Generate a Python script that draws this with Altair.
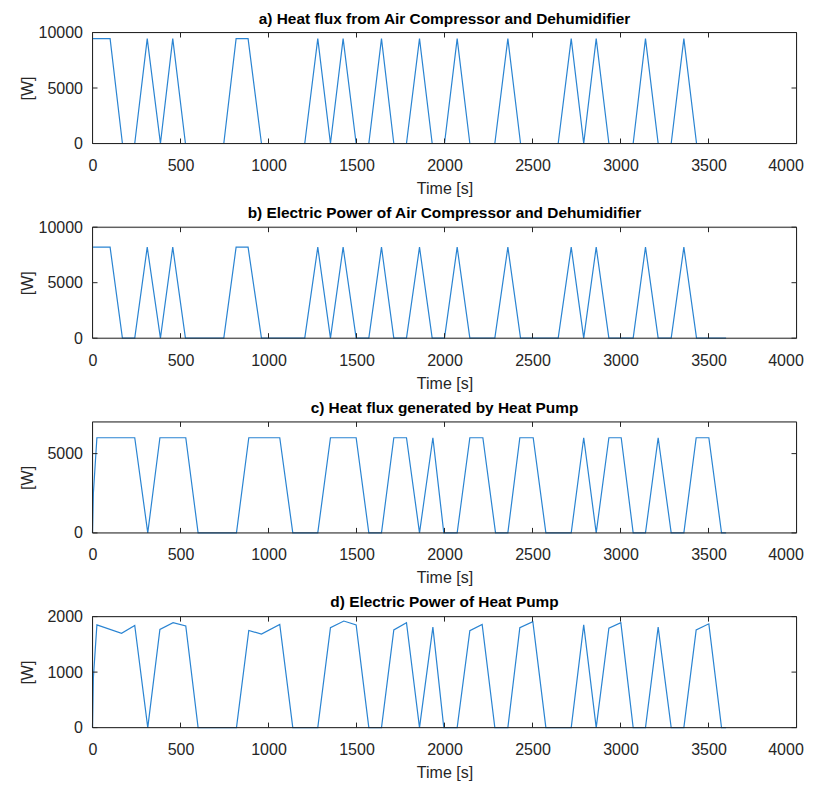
import altair as alt
import pandas as pd

# ---- data ----
t_ab = [0, 100, 170, 240, 311, 386, 456, 528, 746, 816, 884, 960, 1206, 1280, 1352,
        1424, 1498, 1570, 1642, 1712, 1784, 1858, 1930, 2000, 2072, 2144, 2286, 2360,
        2432, 2646, 2720, 2791, 2862, 2934, 3072, 3142, 3214, 3288, 3360, 3432, 3600]
a_vals = [9450, 9450, 0, 0, 9450, 0, 9450, 0, 0, 9450, 9450, 0, 0, 9450, 0,
          9450, 0, 0, 9450, 0, 0, 9450, 0, 0, 9450, 0, 0, 9450,
          0, 0, 9450, 0, 9450, 0, 0, 9450, 0, 0, 9450, 0, 0]
b_vals = [8200, 8200, 0, 0, 8200, 0, 8200, 0, 0, 8200, 8200, 0, 0, 8200, 0,
          8200, 0, 0, 8200, 0, 0, 8200, 0, 0, 8200, 0, 0, 8200,
          0, 0, 8200, 0, 8200, 0, 0, 8200, 0, 0, 8200, 0, 0]

t_c = [0, 5, 25, 240, 314, 383, 530, 600, 818, 888, 1064, 1138, 1280, 1352, 1498,
       1570, 1642, 1712, 1784, 1858, 1934, 1996, 2072, 2144, 2218, 2290, 2360, 2428,
       2504, 2576, 2720, 2791, 2862, 2934, 3004, 3072, 3142, 3214, 3288, 3360, 3430,
       3502, 3574, 3600]
c_vals = [0, 2500, 6000, 6000, 0, 6000, 6000, 0, 0, 6000, 6000, 0, 0, 6000, 6000,
          0, 0, 6000, 6000, 0, 6000, 0, 0, 6000, 6000, 0, 0, 6000,
          6000, 0, 0, 6000, 0, 6000, 6000, 0, 0, 6000, 0, 0, 6000,
          6000, 0, 0]

t_d = [0, 5, 25, 165, 240, 314, 383, 458, 530, 600, 818, 888, 960, 1064, 1138,
       1280, 1352, 1428, 1498, 1570, 1642, 1712, 1784, 1858, 1934, 1996, 2072, 2144,
       2214, 2286, 2360, 2428, 2502, 2576, 2720, 2791, 2862, 2934, 3002, 3072, 3142,
       3214, 3288, 3360, 3430, 3502, 3574, 3600]
d_vals = [0, 900, 1850, 1700, 1840, 0, 1770, 1890, 1830, 0, 0, 1750, 1685, 1860, 0,
          0, 1800, 1920, 1850, 0, 0, 1760, 1890, 0, 1810, 0, 0, 1745,
          1860, 0, 0, 1800, 1910, 0, 0, 1850, 0, 1790, 1890, 0, 0,
          1810, 0, 0, 1760, 1870, 0, 0]

titles = ["a) Heat flux from Air Compressor and Dehumidifier",
          "b) Electric Power of Air Compressor and Dehumidifier",
          "c) Heat flux generated by Heat Pump",
          "d) Electric Power of Heat Pump"]
x_ticks = [0, 500, 1000, 1500, 2000, 2500, 3000, 3500, 4000]
y_maxes = [10000, 10000, 7000, 2000]
y_ticks = [[0, 5000, 10000], [0, 5000, 10000], [0, 5000], [0, 1000, 2000]]
title_offsets = [-3, -2, 5.4, -2]

FONT = "Liberation Sans"
TXT = "#262626"
LINE = "#2a84d2"
W, H = 704, 111
TL = 5  # inward tick length


def panel(t, v, title, ymax, yt, toff):
    df = pd.DataFrame({"t": t, "v": v})
    xs = alt.Scale(domain=[0, 4000], nice=False)
    ys = alt.Scale(domain=[0, ymax], nice=False)
    main = alt.Chart(df).mark_line(color=LINE, strokeWidth=1.2).encode(
        x=alt.X("t:Q", scale=xs, axis=alt.Axis(
            orient="bottom", values=x_ticks, ticks=False, domain=False, grid=False,
            format="d", labelColor=TXT, labelFont=FONT, labelFontSize=16,
            labelPadding=14, labelFlush=False,
            labelOffset={"condition": {"test": "datum.value === 4000", "value": -11}, "value": 0},
            title="Time [s]", titleFont=FONT, titleFontSize=16,
            titleFontWeight="normal", titleColor=TXT, titlePadding=7)),
        y=alt.Y("v:Q", scale=ys, axis=alt.Axis(
            orient="left", values=yt, ticks=False, domain=False, grid=False,
            format="d", labelColor=TXT, labelFont=FONT, labelFontSize=16,
            labelPadding=10, labelFlush=False, title="[W]", titleFont=FONT,
            titleFontSize=16, titleFontWeight="normal", titleColor=TXT,
            titleX=-57, titleY=H / 2)),
    )
    xdf = pd.DataFrame({"t": x_ticks})
    ydf = pd.DataFrame({"v": yt})
    bottom = alt.Chart(xdf).mark_rule(color=TXT).encode(
        x=alt.X("t:Q", scale=xs, axis=None), y=alt.value(H), y2=alt.value(H - TL))
    top = alt.Chart(xdf).mark_rule(color=TXT).encode(
        x=alt.X("t:Q", scale=xs, axis=None), y=alt.value(0), y2=alt.value(TL))
    left = alt.Chart(ydf).mark_rule(color=TXT).encode(
        y=alt.Y("v:Q", scale=ys, axis=None), x=alt.value(0), x2=alt.value(TL))
    right = alt.Chart(ydf).mark_rule(color=TXT).encode(
        y=alt.Y("v:Q", scale=ys, axis=None), x=alt.value(W - TL), x2=alt.value(W))
    frame = alt.Chart(pd.DataFrame({"k": [0]})).mark_rect(
        fillOpacity=0, stroke=TXT, strokeWidth=1).encode(
        x=alt.value(0), x2=alt.value(W), y=alt.value(0), y2=alt.value(H))
    return alt.layer(main, bottom, top, left, right, frame).resolve_axis(
        x="independent", y="independent").properties(
        width=W, height=H,
        title=alt.TitleParams(title, font=FONT, fontSize=15.4, fontWeight="bold",
                              color="black", anchor="middle", frame="group", offset=toff),
    )


panels = [panel(t_ab, a_vals, titles[0], y_maxes[0], y_ticks[0], title_offsets[0]),
          panel(t_ab, b_vals, titles[1], y_maxes[1], y_ticks[1], title_offsets[1]),
          panel(t_c, c_vals, titles[2], y_maxes[2], y_ticks[2], title_offsets[2]),
          panel(t_d, d_vals, titles[3], y_maxes[3], y_ticks[3], title_offsets[3])]

chart = alt.vconcat(*panels, spacing=7.7).properties(
    padding={"left": 10.5, "top": 3.5, "right": 0, "bottom": 0}
).configure_view(stroke="transparent").configure(background="white")

chart.save("out.html", embed_options={"renderer": "svg", "actions": False})
